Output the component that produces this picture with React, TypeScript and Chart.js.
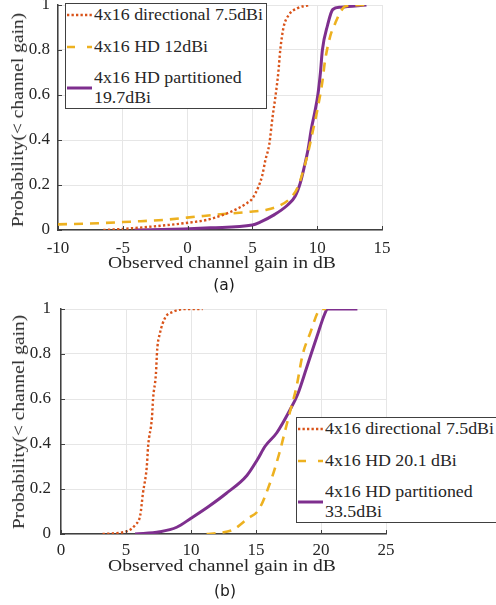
import React, { useEffect, useRef } from 'react';
import { Chart, registerables } from 'chart.js';

Chart.register(...registerables);

// ---- (a) measured CDFs of the observed channel gain ----
const dirGainA = [-6.5, -5, -2.8, -0.3, 1.5, 2.0, 3.3, 4.6, 5.0, 5.45, 5.75, 6.0, 6.3, 6.55, 6.77, 7.0, 7.15, 7.4, 7.8, 8.45, 9.4];
const dirProbA = [0, 0.005, 0.015, 0.03, 0.045, 0.053, 0.08, 0.12, 0.14, 0.19, 0.24, 0.31, 0.38, 0.5, 0.59, 0.7, 0.8, 0.9, 0.955, 0.985, 1];

const hdGainA = [-10, -6.9, -4.4, -1.8, 0.8, 2.0, 4.6, 6.1, 7.15, 7.9, 8.5, 9.1, 9.4, 9.7, 10.0, 10.4, 10.6, 11.0, 11.4, 11.8, 12.2, 13.8];
const hdProbA = [0.025, 0.03, 0.037, 0.045, 0.06, 0.067, 0.08, 0.09, 0.11, 0.14, 0.19, 0.3, 0.37, 0.45, 0.53, 0.66, 0.75, 0.86, 0.92, 0.97, 0.995, 1];

const partGainA = [-4.1, -0.3, 1.8, 5.0, 5.6, 6.6, 7.7, 8.3, 8.7, 9.0, 9.3, 9.55, 9.8, 10.05, 10.25, 10.4, 10.8, 11.2, 11.8, 13.8];
const partProbA = [0, 0.005, 0.01, 0.022, 0.035, 0.065, 0.11, 0.15, 0.21, 0.28, 0.36, 0.45, 0.52, 0.6, 0.7, 0.8, 0.91, 0.98, 0.99, 1];

const legendA = [['4x16 directional 7.5dBi'], ['4x16 HD 12dBi'], ['4x16 HD partitioned', '19.7dBi']];
const gainTicksA = [-10, 15];

// ---- (b) measured CDFs of the observed channel gain ----
const dirGainB = [3.2, 5.1, 5.7, 6.1, 6.3, 6.6, 6.7, 7.0, 7.08, 7.3, 7.4, 7.6, 8.0, 8.6, 9.7, 10.9];
const dirProbB = [0, 0.013, 0.04, 0.085, 0.18, 0.3, 0.39, 0.52, 0.6, 0.71, 0.82, 0.89, 0.96, 0.987, 1, 1];

const hdGainB = [11.2, 12.2, 13.2, 14.4, 15.2, 16.1, 16.8, 17.2, 17.6, 18.1, 18.6, 19.15, 19.8, 20.1, 20.4];
const hdProbB = [0, 0.005, 0.018, 0.07, 0.107, 0.23, 0.36, 0.45, 0.54, 0.65, 0.8, 0.89, 0.99, 1, 1];

const partGainB = [5.7, 7.6, 8.9, 10.0, 11.3, 12.7, 14.3, 15.1, 15.7, 16.6, 17.6, 18.2, 18.9, 19.7, 20.3, 20.5, 22.8];
const partProbB = [0, 0.01, 0.03, 0.07, 0.12, 0.18, 0.26, 0.33, 0.39, 0.45, 0.55, 0.62, 0.74, 0.88, 0.98, 1, 1];

const legendB = [['4x16 directional 7.5dBi'], ['4x16 HD 20.1 dBi'], ['4x16 HD partitioned', '33.5dBi']];
const gainTicksB = [0, 25];

const xTitle = 'Observed channel gain in dB';
const yTitle = 'Probability(< channel gain)';

const SERIF = '"Liberation Serif", "Times New Roman", serif';
const INK = '#262626';
const AXIS = '#404040';
const ORANGE = '#D95319';
const YELLOW = '#EDB120';
const PURPLE = '#7E2F8E';

type Style = { color: string; width: number; dash: number[]; svgDash?: string };
const STYLES: Style[] = [
  { color: ORANGE, width: 2.4, dash: [2.3, 2.3], svgDash: '2.3 2.2' },
  { color: YELLOW, width: 2.6, dash: [9, 7], svgDash: '8 12' },
  { color: PURPLE, width: 3, dash: [] },
];

// short inward tick marks on the two drawn axes
const innerTicks = {
  id: 'innerTicks',
  afterDraw(chart: any) {
    const { ctx, chartArea: a, scales } = chart;
    ctx.save();
    ctx.strokeStyle = AXIS;
    ctx.lineWidth = 1;
    ctx.beginPath();
    scales.x.ticks.forEach((t: any) => {
      const px = Math.round(scales.x.getPixelForValue(t.value)) + 0.5;
      ctx.moveTo(px, a.bottom);
      ctx.lineTo(px, a.bottom - 4);
    });
    scales.y.ticks.forEach((t: any) => {
      const py = Math.round(scales.y.getPixelForValue(t.value)) + 0.5;
      ctx.moveTo(a.left, py);
      ctx.lineTo(a.left + 4, py);
    });
    ctx.stroke();
    ctx.restore();
  },
};

type CdfProps = {
  top: number;
  height: number;
  padTop: number;
  padRight: number;
  yWidth: number;
  xHeight: number;
  xRange: number[];
  xPad: number;
  yPad: number;
  series: { x: number[]; y: number[] }[];
};

function CdfCanvas(p: CdfProps) {
  const ref = useRef<HTMLCanvasElement>(null);
  useEffect(() => {
    if (!ref.current) return;
    const tickFont = { family: SERIF, size: 17 };
    const chart = new Chart(ref.current, {
      type: 'line',
      data: {
        datasets: p.series.map((s, i) => ({
          data: s.x.map((x, k) => ({ x, y: s.y[k] })),
          borderColor: STYLES[i].color,
          borderWidth: STYLES[i].width,
          borderDash: STYLES[i].dash,
          borderCapStyle: 'butt',
          pointRadius: 0,
          fill: false,
          cubicInterpolationMode: 'monotone',
        })),
      },
      options: {
        animation: false,
        responsive: false,
        devicePixelRatio: 1,
        events: [],
        layout: { padding: { top: p.padTop, right: p.padRight, left: 0, bottom: 0 } },
        plugins: { legend: { display: false }, tooltip: { enabled: false } },
        scales: {
          x: {
            type: 'linear',
            min: p.xRange[0],
            max: p.xRange[1],
            afterFit: (s: any) => {
              s.height = p.xHeight;
              s.paddingLeft = 0;
              s.paddingRight = 0;
            },
            ticks: { stepSize: 5, font: tickFont, color: INK, padding: p.xPad, maxRotation: 0, autoSkip: false },
            grid: { color: '#e6e6e6', lineWidth: 1, drawTicks: false },
            border: { display: true, color: AXIS, width: 1.5 },
          },
          y: {
            type: 'linear',
            min: 0,
            max: 1,
            afterFit: (s: any) => {
              s.width = p.yWidth;
              s.paddingTop = 0;
              s.paddingBottom = 0;
            },
            ticks: {
              stepSize: 0.2,
              font: tickFont,
              color: INK,
              padding: p.yPad,
              callback: (v: any) => String(Math.round(Number(v) * 10) / 10),
            },
            grid: { color: '#e6e6e6', lineWidth: 1, drawTicks: false },
            border: { display: true, color: AXIS, width: 1.5 },
          },
        },
      },
      plugins: [innerTicks],
    } as any);
    return () => chart.destroy();
  }, []);
  return (
    <canvas
      ref={ref}
      width={496}
      height={p.height}
      style={{ position: 'absolute', left: 0, top: p.top, width: 496, height: p.height }}
    />
  );
}

function Legend({ left, top, width, entries }: { left: number; top: number; width: number; entries: string[][] }) {
  const rows = [12, 44, 85];
  return (
    <div
      style={{
        position: 'absolute',
        left,
        top,
        width,
        height: 106,
        boxSizing: 'border-box',
        border: `1px solid ${AXIS}`,
        background: '#fff',
      }}
    >
      {entries.map((lines, i) => {
        const st = STYLES[i];
        const c = rows[i] - 1;
        return (
          <React.Fragment key={i}>
            <svg width={26} height={8} style={{ position: 'absolute', left: 1, top: c - 4 }}>
              <line
                x1={0}
                y1={4}
                x2={25}
                y2={4}
                stroke={st.color}
                strokeWidth={st.width}
                strokeDasharray={st.svgDash}
              />
            </svg>
            {lines.map((t, j) => (
              <div
                key={j}
                style={{
                  position: 'absolute',
                  left: 28,
                  top: c - 10 + (j - (lines.length - 1) / 2) * 20,
                  lineHeight: '20px',
                  fontFamily: SERIF,
                  fontSize: 16,
                  color: INK,
                  whiteSpace: 'nowrap',
                  transform: 'scaleX(1.115)',
                  transformOrigin: 'left center',
                }}
              >
                {t}
              </div>
            ))}
          </React.Fragment>
        );
      })}
    </div>
  );
}

function XTitle({ cx, cy }: { cx: number; cy: number }) {
  return (
    <div
      style={{
        position: 'absolute',
        left: cx,
        top: cy,
        lineHeight: '20px',
        fontFamily: SERIF,
        fontSize: 16.5,
        color: INK,
        whiteSpace: 'nowrap',
        transform: 'translate(-50%, -50%) scaleX(1.19)',
      }}
    >
      {xTitle}
    </div>
  );
}

function YTitle({ cx, cy }: { cx: number; cy: number }) {
  return (
    <div
      style={{
        position: 'absolute',
        left: cx,
        top: cy,
        lineHeight: '20px',
        fontFamily: SERIF,
        fontSize: 16.5,
        color: INK,
        whiteSpace: 'nowrap',
        transform: 'translate(-50%, -50%) rotate(-90deg) scaleX(1.18)',
      }}
    >
      {yTitle}
    </div>
  );
}

function Caption({ cx, cy, text }: { cx: number; cy: number; text: string }) {
  return (
    <div
      style={{
        position: 'absolute',
        left: cx,
        top: cy,
        lineHeight: '20px',
        fontFamily: '"DejaVu Sans", sans-serif',
        fontSize: 15.5,
        color: '#1a1a1a',
        whiteSpace: 'nowrap',
        transform: 'translate(-50%, -50%)',
      }}
    >
      {text}
    </div>
  );
}

export default function App() {
  return (
    <div
      style={{
        position: 'absolute',
        left: 0,
        top: 0,
        width: 496,
        height: 605,
        overflow: 'hidden',
        background: '#fff',
      }}
    >
      <CdfCanvas
        top={0}
        height={262}
        padTop={5}
        padRight={114}
        yWidth={58}
        xHeight={32}
        xRange={gainTicksA}
        xPad={8}
        yPad={8}
        series={[
          { x: dirGainA, y: dirProbA },
          { x: hdGainA, y: hdProbA },
          { x: partGainA, y: partProbA },
        ]}
      />
      <Legend left={65} top={3} width={202} entries={legendA} />
      <YTitle cx={18} cy={120} />
      <XTitle cx={222} cy={263} />
      <Caption cx={224} cy={285} text="(a)" />

      <CdfCanvas
        top={300}
        height={262}
        padTop={9}
        padRight={110}
        yWidth={61}
        xHeight={28}
        xRange={gainTicksB}
        xPad={6.5}
        yPad={10}
        series={[
          { x: dirGainB, y: dirProbB },
          { x: hdGainB, y: hdProbB },
          { x: partGainB, y: partProbB },
        ]}
      />
      <Legend left={296} top={417} width={230} entries={legendB} />
      <YTitle cx={19} cy={422} />
      <XTitle cx={222} cy={566} />
      <Caption cx={225} cy={591} text="(b)" />
    </div>
  );
}
